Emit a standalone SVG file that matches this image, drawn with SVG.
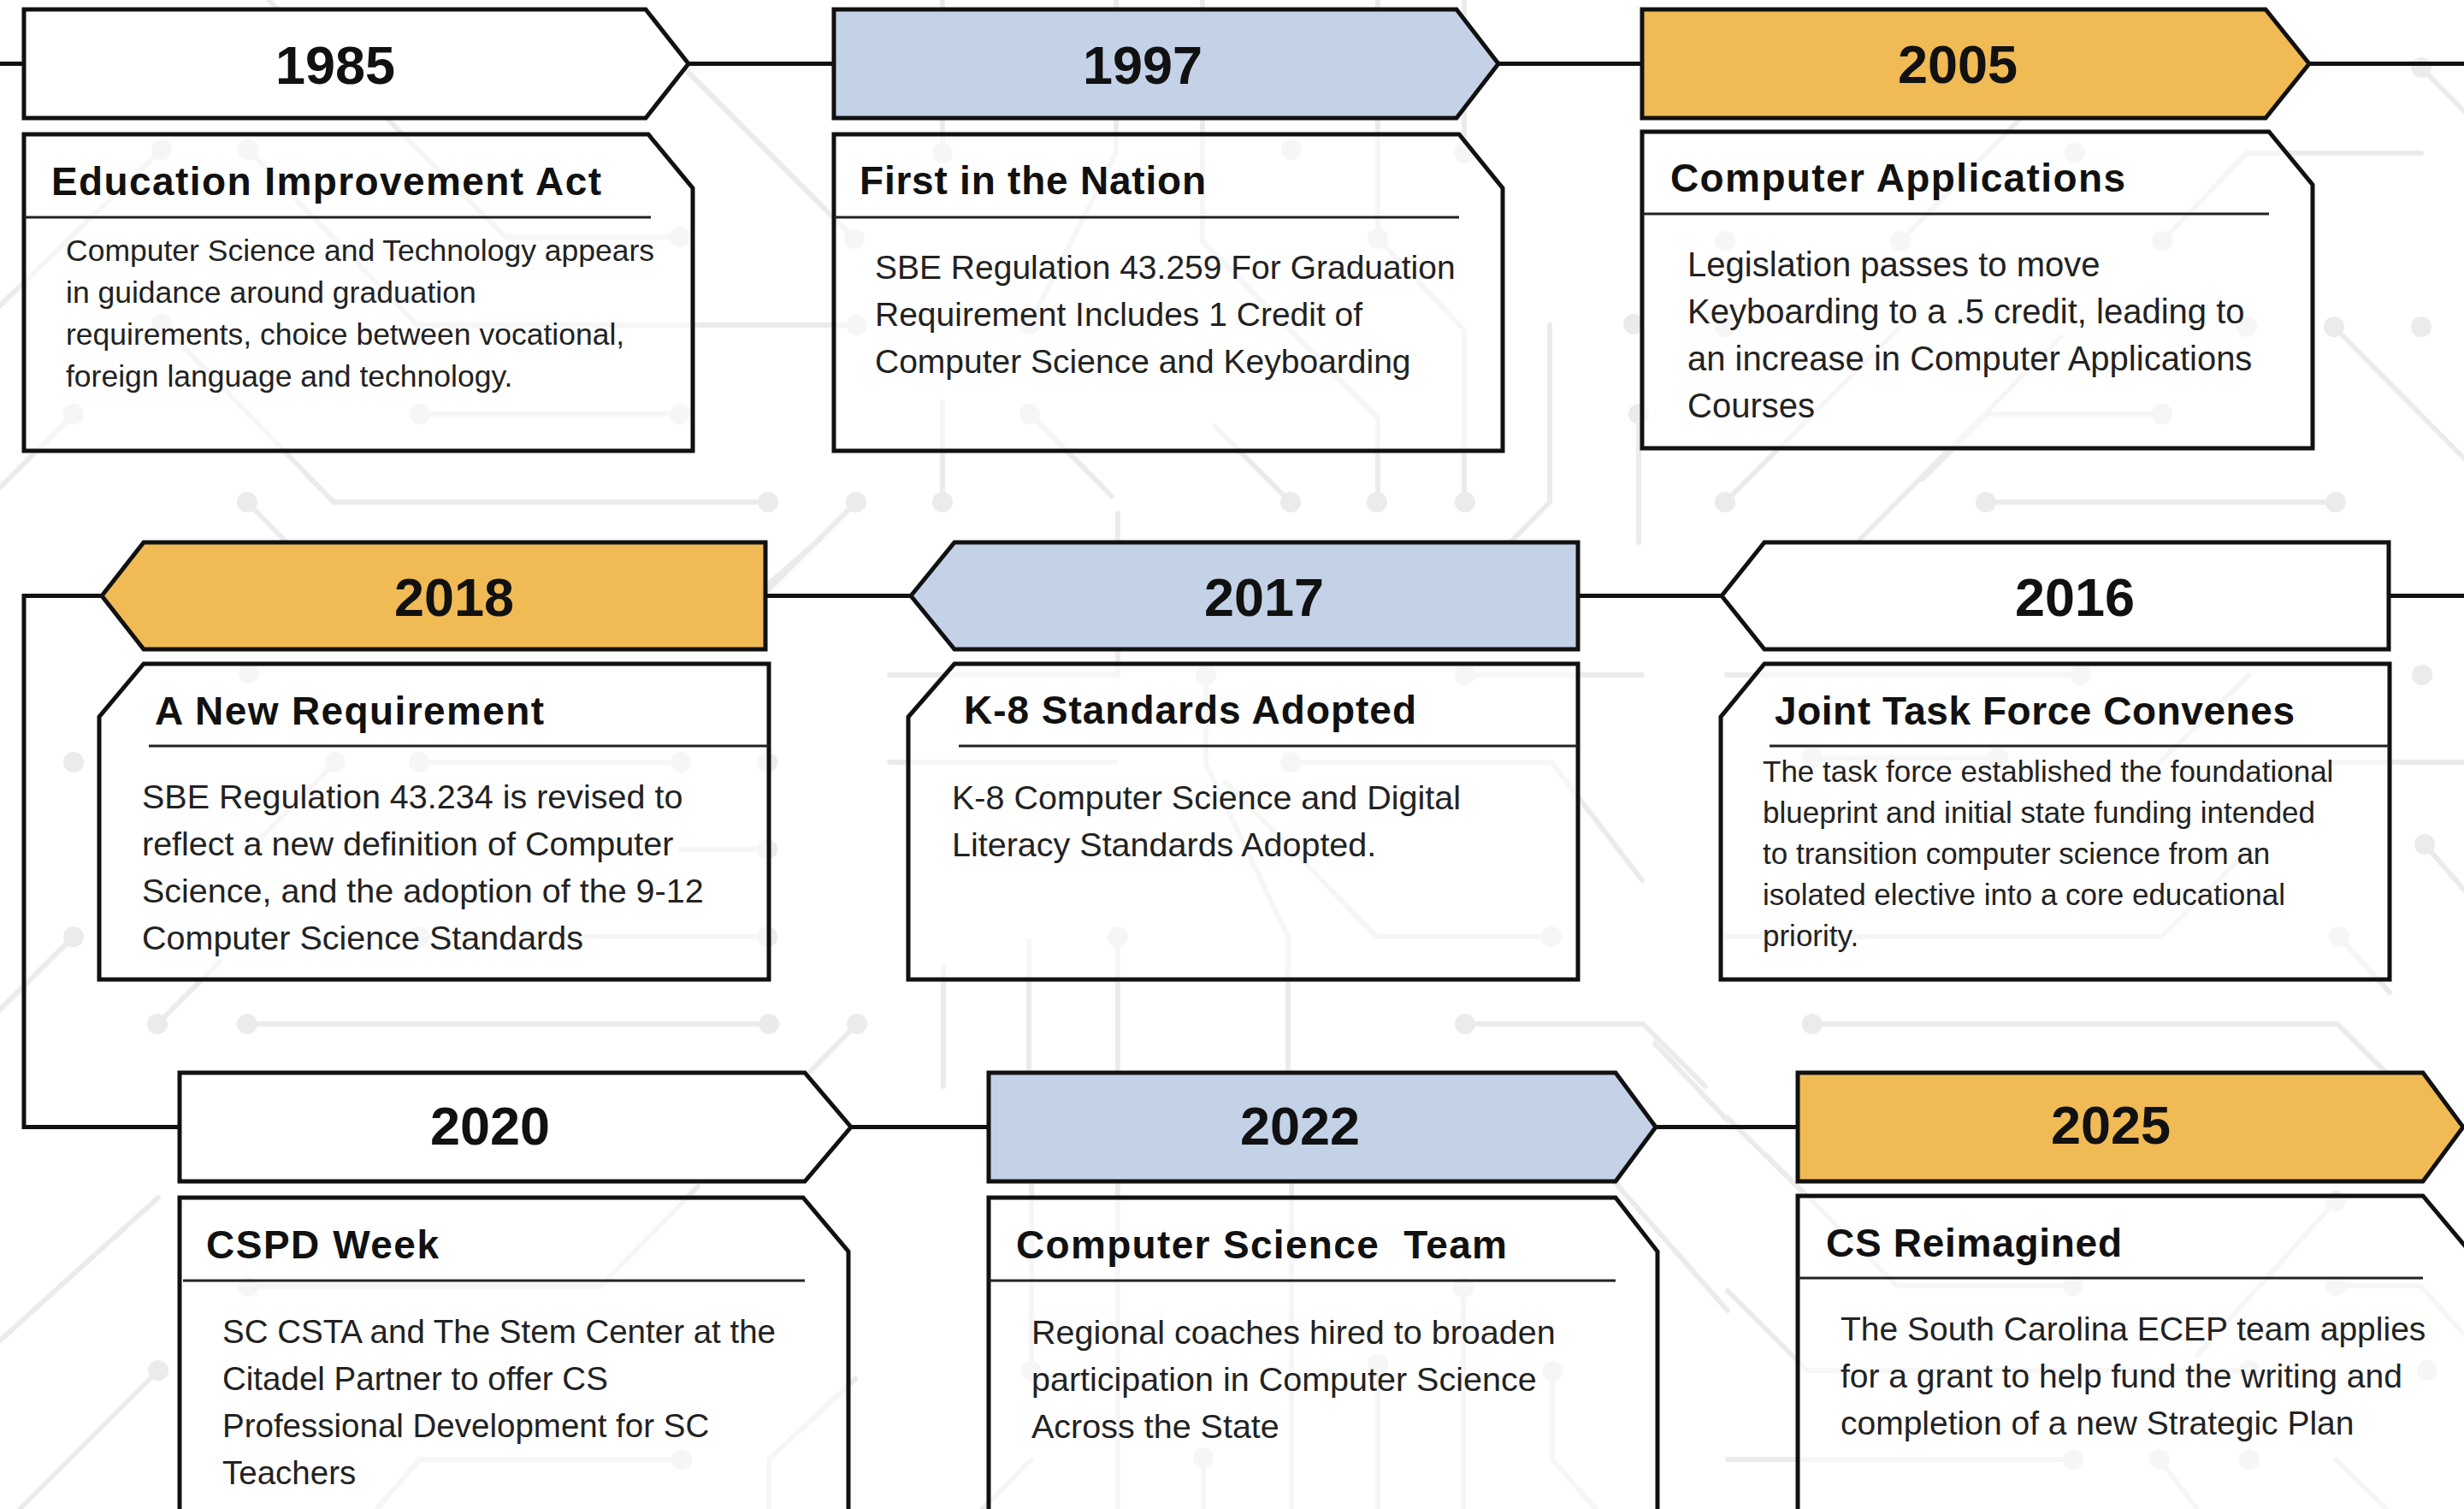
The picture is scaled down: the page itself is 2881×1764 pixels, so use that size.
<svg xmlns="http://www.w3.org/2000/svg" width="2881" height="1764" viewBox="0 0 2881 1764">
<style>
.bg{fill:none;stroke:#EBEBEB;stroke-width:6;stroke-linecap:round;stroke-linejoin:round}
.dot{fill:#EBEBEB}
.conn{fill:none;stroke:#111;stroke-width:5}
.banner{stroke:#111;stroke-width:5;stroke-linejoin:miter}
.w{fill:#FFFFFF}.b{fill:#C4D2E8}.g{fill:#F0BA55}
.card{fill:#FFFFFF;fill-opacity:0.55;stroke:#111;stroke-width:5}
.div{stroke:#222;stroke-width:3}
.year{font-family:"Liberation Sans",Arial,sans-serif;font-weight:700;font-size:63px;fill:#111;text-anchor:middle}
.title{font-family:"Liberation Sans",Arial,sans-serif;font-weight:700;font-size:46px;fill:#111}
.body{font-family:"Liberation Sans",Arial,sans-serif;font-weight:400;fill:#222}
</style>

<g id="background">
<path class="bg" d="M0,357 L189,175 M314,0 L591,277 L795,277 M290,175 L488,380 L1002,380 M189,379 L390,587 L898,587 M86,484 L0,570 M491,484 L795,484 M740,20 L999,279 M289,587 L335,634 M1001,587 L895,693 M1102,0 V179 M1102,470 V587 M1305,0 V179 L1204,379 M1406,0 V282 L1611,489 V587 M1611,0 V279 L1712,386 V587 M1712,0 V179 M1812,380 V587 L1760,640 M1916,484 V634 M1509,587 L1420,498 M2017,587 L2222,382 M2410,394 L2175,630 M2322,587 L2731,587 M2627,179 L2831,179 M2627,179 L2528,282 M2831,79 L2881,130 M2729,382 L2881,536 M2324,484 L2528,484 M2324,484 L2248,560 M2365,136 L2222,282 M1204,484 L1300,580"/>
<path class="bg" d="M490,891 L796,891 M796,993 L897,993 M490,1095 L897,1095 M392,891 L290,995 M86,1095 L0,1180 M184,1197 L257,1124 M289,1197 L899,1197 M1002,1197 L946,1254 M1040,789 L1307,789 V600 M1410,789 V893 L1506,1095 V1270 M1713,789 L1920,789 M1509,891 L1814,891 L1920,1029 M1040,891 L1304,891 M1307,1095 V1270 M1610,1095 L1814,1095 M1610,1095 L1433,914 M1203,1100 V1270 M1103,1130 V1270 M2019,789 L2433,789 M2630,789 L2512,904 M2119,886 L2336,886 M2724,891 L2881,891 M2835,987 L2881,1040 M2735,1095 L2794,1160 M2019,1095 L2527,1095 L2630,993 M1713,1197 L1921,1197 L1994,1270 M2119,1197 L2733,1197 L2800,1264 M899,682 L960,629"/>
<path class="bg" d="M290,1504 L702,1504 L816,1387 M185,1602 L23,1764 M185,1400 L0,1567 M797,1706 L491,1706 L440,1764 M899,1764 V1706 L1000,1612 M1206,1380 V1603 M1206,1706 L1149,1764 M1307,1254 V1764 M1510,1254 V1764 M1611,1595 V1764 M1711,1505 V1764 M1815,1603 V1706 L1866,1764 M1407,1704 V1764 M1935,1220 L2020,1310 M1889,1383 L2020,1532 M2218,1503 L2424,1503 M2218,1503 L2119,1404 M2731,1404 L2569,1584 M2731,1503 L2830,1503 L2881,1560 M2020,1706 L2424,1706 M2113,1602 L2630,1602 M2113,1602 L2020,1509 M2525,1706 L2569,1764 M2731,1706 L2790,1764 M2020,1307 L2119,1404"/>
<g class="dot">
<circle cx="189" cy="175" r="12"/><circle cx="795" cy="277" r="12"/><circle cx="290" cy="175" r="12"/><circle cx="1002" cy="380" r="12"/><circle cx="189" cy="379" r="12"/><circle cx="898" cy="587" r="12"/><circle cx="86" cy="484" r="12"/><circle cx="491" cy="484" r="12"/><circle cx="795" cy="484" r="12"/><circle cx="999" cy="279" r="12"/><circle cx="289" cy="587" r="12"/><circle cx="1001" cy="587" r="12"/><circle cx="1102" cy="179" r="12"/><circle cx="1102" cy="587" r="12"/><circle cx="1204" cy="379" r="12"/><circle cx="1204" cy="484" r="12"/><circle cx="1510" cy="175" r="12"/><circle cx="1611" cy="279" r="12"/><circle cx="1610" cy="587" r="12"/><circle cx="1713" cy="587" r="12"/><circle cx="1712" cy="179" r="12"/><circle cx="1910" cy="379" r="12"/><circle cx="1916" cy="484" r="12"/><circle cx="1509" cy="587" r="12"/><circle cx="2017" cy="587" r="12"/><circle cx="2017" cy="282" r="12"/><circle cx="2222" cy="282" r="12"/><circle cx="2426" cy="179" r="12"/><circle cx="2528" cy="282" r="12"/><circle cx="2017" cy="382" r="12"/><circle cx="2627" cy="382" r="12"/><circle cx="2729" cy="382" r="12"/><circle cx="2831" cy="382" r="12"/><circle cx="2831" cy="79" r="12"/><circle cx="2322" cy="587" r="12"/><circle cx="2731" cy="587" r="12"/><circle cx="2528" cy="484" r="12"/>
<circle cx="291" cy="787" r="12"/><circle cx="86" cy="891" r="12"/><circle cx="392" cy="891" r="12"/><circle cx="490" cy="891" r="12"/><circle cx="796" cy="891" r="12"/><circle cx="897" cy="891" r="12"/><circle cx="897" cy="993" r="12"/><circle cx="86" cy="1095" r="12"/><circle cx="490" cy="1095" r="12"/><circle cx="897" cy="1095" r="12"/><circle cx="184" cy="1197" r="12"/><circle cx="289" cy="1197" r="12"/><circle cx="899" cy="1197" r="12"/><circle cx="1002" cy="1197" r="12"/><circle cx="1410" cy="789" r="12"/><circle cx="1713" cy="789" r="12"/><circle cx="1509" cy="891" r="12"/><circle cx="1307" cy="1095" r="12"/><circle cx="1814" cy="1095" r="12"/><circle cx="2433" cy="789" r="12"/><circle cx="2832" cy="789" r="12"/><circle cx="2119" cy="886" r="12"/><circle cx="2336" cy="886" r="12"/><circle cx="2835" cy="987" r="12"/><circle cx="2735" cy="1095" r="12"/><circle cx="1713" cy="1197" r="12"/><circle cx="2119" cy="1197" r="12"/>
<circle cx="290" cy="1504" r="12"/><circle cx="185" cy="1602" r="12"/><circle cx="797" cy="1706" r="12"/><circle cx="1206" cy="1603" r="12"/><circle cx="1611" cy="1595" r="12"/><circle cx="1711" cy="1505" r="12"/><circle cx="1815" cy="1603" r="12"/><circle cx="1407" cy="1704" r="12"/><circle cx="2424" cy="1503" r="12"/><circle cx="2731" cy="1404" r="12"/><circle cx="2731" cy="1503" r="12"/><circle cx="2838" cy="1602" r="12"/><circle cx="2630" cy="1602" r="12"/><circle cx="2424" cy="1706" r="12"/><circle cx="2525" cy="1706" r="12"/><circle cx="2630" cy="1706" r="12"/>
</g>
</g>

<g id="connectors">
<path class="conn" d="M0,74.5 H28 M805,74.5 H975 M1752,74.5 H1920 M2700,74.5 H2881"/>
<path class="conn" d="M895,696.5 H1065 M1845,696.5 H2013 M2793,696.5 H2881 M119,696.5 H28 V1317.5 H210"/>
<path class="conn" d="M995,1317.5 H1156 M1936,1317.5 H2102"/>
</g>

<g id="node-1985">
<path class="banner w" d="M28,11 L755,11 L805,74.5 L755,138 L28,138 Z"/>
<text class="year" x="392" y="98">1985</text>
<path class="card" d="M28,157 L758,157 L810,220 L810,527 L28,527 Z"/>
<line class="div" x1="28" y1="254" x2="761" y2="254"/>
<text class="title" x="60" y="228" textLength="643" lengthAdjust="spacing">Education Improvement Act</text>
<g class="body" font-size="35.5">
<text x="77" y="305">Computer Science and Technology appears</text>
<text x="77" y="354">in guidance around graduation</text>
<text x="77" y="403">requirements, choice between vocational,</text>
<text x="77" y="452">foreign language and technology.</text>
</g>
</g>

<g id="node-1997">
<path class="banner b" d="M975,11 L1703,11 L1752,74.5 L1703,138 L975,138 Z"/>
<text class="year" x="1336" y="98">1997</text>
<path class="card" d="M975,157 L1706,157 L1757,220 L1757,527 L975,527 Z"/>
<line class="div" x1="975" y1="254" x2="1706" y2="254"/>
<text class="title" x="1005" y="227" textLength="405" lengthAdjust="spacing">First in the Nation</text>
<g class="body" font-size="39">
<text x="1023" y="326">SBE Regulation 43.259 For Graduation</text>
<text x="1023" y="381">Requirement Includes 1 Credit of</text>
<text x="1023" y="436">Computer Science and Keyboarding</text>
</g>
</g>

<g id="node-2005">
<path class="banner g" d="M1920,11 L2649,11 L2700,74.5 L2649,138 L1920,138 Z"/>
<text class="year" x="2289" y="97">2005</text>
<path class="card" d="M1920,154 L2653,154 L2704,216 L2704,524 L1920,524 Z"/>
<line class="div" x1="1920" y1="250" x2="2653" y2="250"/>
<text class="title" x="1953" y="224" textLength="532" lengthAdjust="spacing">Computer Applications</text>
<g class="body" font-size="40">
<text x="1973" y="323">Legislation passes to move</text>
<text x="1973" y="378">Keyboarding to a .5 credit, leading to</text>
<text x="1973" y="433">an increase in Computer Applications</text>
<text x="1973" y="488">Courses</text>
</g>
</g>

<g id="node-2018">
<path class="banner g" d="M119,696.5 L168,634 L895,634 L895,759 L168,759 Z"/>
<text class="year" x="531" y="720">2018</text>
<path class="card" d="M168,776 L899,776 L899,1145 L116,1145 L116,838 Z"/>
<line class="div" x1="174" y1="872" x2="899" y2="872"/>
<text class="title" x="181" y="847" textLength="455" lengthAdjust="spacing">A New Requirement</text>
<g class="body" font-size="39.5">
<text x="166" y="945">SBE Regulation 43.234 is revised to</text>
<text x="166" y="1000">reflect a new definition of Computer</text>
<text x="166" y="1055">Science, and the adoption of the 9-12</text>
<text x="166" y="1110">Computer Science Standards</text>
</g>
</g>

<g id="node-2017">
<path class="banner b" d="M1065,696.5 L1116,634 L1845,634 L1845,759 L1116,759 Z"/>
<text class="year" x="1478" y="720">2017</text>
<path class="card" d="M1116,776 L1845,776 L1845,1145 L1062,1145 L1062,838 Z"/>
<line class="div" x1="1121" y1="872" x2="1845" y2="872"/>
<text class="title" x="1127" y="846" textLength="529" lengthAdjust="spacing">K-8 Standards Adopted</text>
<g class="body" font-size="39.5">
<text x="1113" y="946">K-8 Computer Science and Digital</text>
<text x="1113" y="1001">Literacy Standards Adopted.</text>
</g>
</g>

<g id="node-2016">
<path class="banner w" d="M2013,696.5 L2063,634 L2793,634 L2793,759 L2063,759 Z"/>
<text class="year" x="2426" y="720">2016</text>
<path class="card" d="M2063,776 L2794,776 L2794,1145 L2012,1145 L2012,838 Z"/>
<line class="div" x1="2069" y1="872" x2="2794" y2="872"/>
<text class="title" x="2075" y="847" textLength="608" lengthAdjust="spacing">Joint Task Force Convenes</text>
<g class="body" font-size="35">
<text x="2061" y="914">The task force established the foundational</text>
<text x="2061" y="962">blueprint and initial state funding intended</text>
<text x="2061" y="1010">to transition computer science from an</text>
<text x="2061" y="1058">isolated elective into a core educational</text>
<text x="2061" y="1106">priority.</text>
</g>
</g>

<g id="node-2020">
<path class="banner w" d="M210,1254 L941,1254 L995,1317.5 L941,1381 L210,1381 Z"/>
<text class="year" x="573" y="1338">2020</text>
<path class="card" d="M210,1400 L939,1400 L992,1463 L992,1800 L210,1800 Z"/>
<line class="div" x1="214" y1="1497" x2="941" y2="1497"/>
<text class="title" x="241" y="1471" textLength="272" lengthAdjust="spacing">CSPD Week</text>
<g class="body" font-size="38.5">
<text x="260" y="1570">SC CSTA and The Stem Center at the</text>
<text x="260" y="1625">Citadel Partner to offer CS</text>
<text x="260" y="1680">Professional Development for SC</text>
<text x="260" y="1735">Teachers</text>
</g>
</g>

<g id="node-2022">
<path class="banner b" d="M1156,1254 L1889,1254 L1936,1317.5 L1889,1381 L1156,1381 Z"/>
<text class="year" x="1520" y="1338">2022</text>
<path class="card" d="M1156,1400 L1889,1400 L1938,1463 L1938,1800 L1156,1800 Z"/>
<line class="div" x1="1156" y1="1497" x2="1889" y2="1497"/>
<text class="title" x="1188" y="1471" textLength="574" lengthAdjust="spacing" style="white-space:pre">Computer Science  Team</text>
<g class="body" font-size="39.5">
<text x="1206" y="1571">Regional coaches hired to broaden</text>
<text x="1206" y="1626">participation in Computer Science</text>
<text x="1206" y="1681">Across the State</text>
</g>
</g>

<g id="node-2025">
<path class="banner g" d="M2102,1254 L2833,1254 L2880,1317.5 L2833,1381 L2102,1381 Z"/>
<text class="year" x="2468" y="1337">2025</text>
<path class="card" d="M2102,1398 L2833,1398 L2886,1461 L2886,1800 L2102,1800 Z"/>
<line class="div" x1="2102" y1="1494" x2="2833" y2="1494"/>
<text class="title" x="2135" y="1469" textLength="346" lengthAdjust="spacing">CS Reimagined</text>
<g class="body" font-size="39">
<text x="2152" y="1567">The South Carolina ECEP team applies</text>
<text x="2152" y="1622">for a grant to help fund the writing and</text>
<text x="2152" y="1677">completion of a new Strategic Plan</text>
</g>
</g>
</svg>
